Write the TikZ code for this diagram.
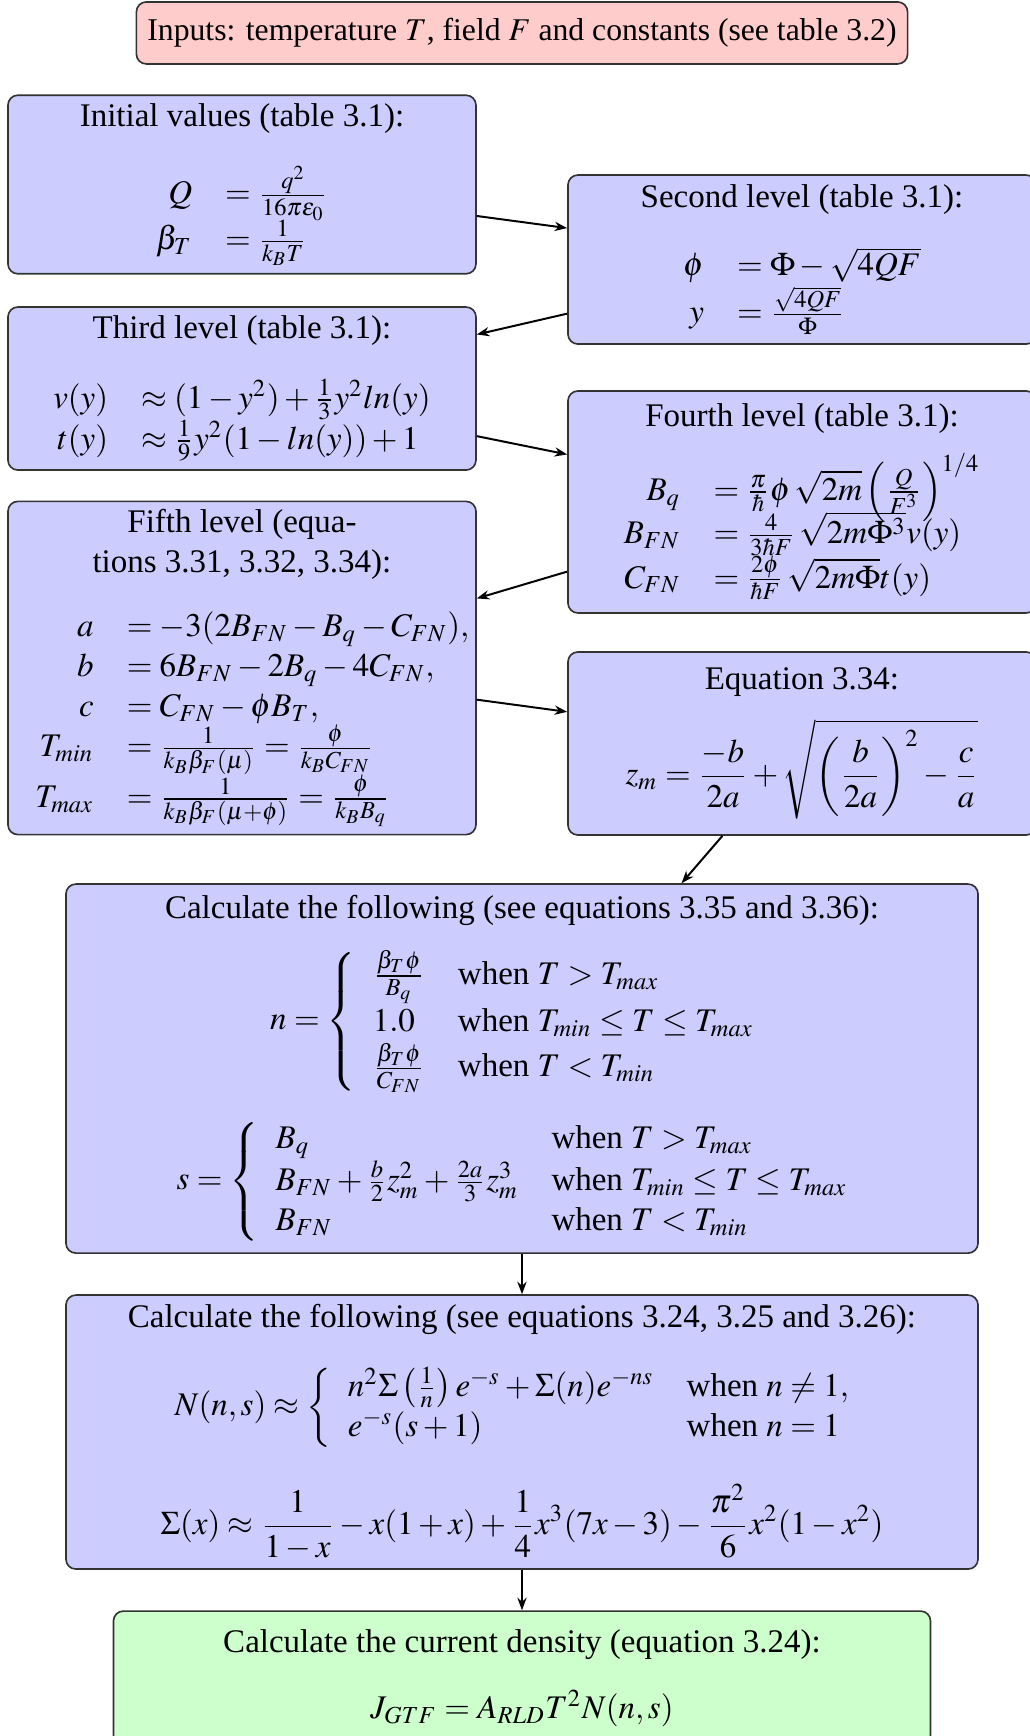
\documentclass[tikz,border=0pt]{standalone}
\usepackage{amsmath}
\usepackage{mathptmx}
\usepackage{fontspec}
\setmainfont{Liberation Serif}
\usetikzlibrary{arrows.meta,positioning}
\definecolor{LevelBlue}{HTML}{CCCCFF}
\definecolor{InputRed}{HTML}{FFCCCC}
\definecolor{ResultGreen}{HTML}{CCFFCC}

\begin{document}
\begin{tikzpicture}[
  x=1cm,y=1cm,
  flow/.style={
    -{Stealth[length=3.8pt,width=2.8pt]},
    line width=0.6pt,
    draw=black
  },
  levelbox/.style={
    rounded corners=3pt,
    line width=0.5pt,
    draw=black!80,
    fill=LevelBlue,
    align=flush center,
    text width=4.75cm,
    inner xsep=0.117cm,
    inner ysep=2.5pt,
    font=\fontsize{10}{12}\selectfont
  },
  calcbox/.style={
    levelbox,
    text width=9.479cm
  },
  inputbox/.style={
    rounded corners=3pt,
    line width=0.5pt,
    draw=black!80,
    fill=InputRed,
    align=center,
    minimum width=8.211cm,
    minimum height=0.660cm,
    font=\fontsize{9.6}{11.5}\selectfont
  },
  resultbox/.style={
    levelbox,
    fill=ResultGreen,
    text width=8.467cm
  }
]
\useasboundingbox (0,0) rectangle (10.959,-18.488);

% -------------------------------------------------
% Inputs
% -------------------------------------------------
\node[inputbox] (inputs) at (5.559,-0.351)
{Inputs: temperature $T$, field $F$ and constants (see table 3.2)};

% -------------------------------------------------
% Levels (zig-zag)
% -------------------------------------------------
\node[levelbox, minimum height=1.885cm] (init) at (2.577,-1.965)
{Initial values (table 3.1):\\[9pt]
$\begin{array}{rl}
Q & = \frac{q^2}{16\pi\epsilon_0}\\
\beta_T & = \frac{1}{k_BT}
\end{array}$};

\node[levelbox, minimum height=1.800cm] (second) at (8.541,-2.764)
{Second level (table 3.1):\\[9pt]
$\begin{array}{rl}
\phi & = \Phi - \sqrt{4QF}\\
y & = \frac{\sqrt{4QF}}{\Phi}
\end{array}$};

\node[levelbox, minimum height=1.736cm] (third) at (2.577,-4.138)
{Third level (table 3.1):\\[9pt]
$\begin{array}{rl}
v(y) & \approx (1-y^2)+\frac{1}{3}y^2ln(y)\\
t(y) & \approx \frac{1}{9}y^2(1-ln(y))+1
\end{array}$};

\node[levelbox, minimum height=2.364cm] (fourth) at (8.541,-5.346)
{Fourth level (table 3.1):\\[5pt]
$\begin{array}{rl}
B_q & = \frac{\pi}{\hbar}\phi\,\sqrt{2m}\left(\frac{Q}{F^3}\right)^{1/4}\\[-3pt]
B_{FN} & = \frac{4}{3\hbar F}\,\sqrt{2m\Phi^3}v(y)\\
C_{FN} & = \frac{2\phi}{\hbar F}\,\sqrt{2m\Phi}t(y)
\end{array}$};

\node[levelbox, minimum height=3.536cm] (fifth) at (2.577,-7.114)
{Fifth level (equa-\\tions 3.31, 3.32, 3.34):\\[8pt]
$\begin{array}{rl}
a & = -3(2B_{FN}-B_q-C_{FN}),\\
b & = 6B_{FN}-2B_q-4C_{FN},\\
c & = C_{FN}-\phi B_T,\\[-1pt]
T_{min} & = \frac{1}{k_B\beta_F(\mu)} = \frac{\phi}{k_BC_{FN}}\\
T_{max} & = \frac{1}{k_B\beta_F(\mu+\phi)} = \frac{\phi}{k_BB_q}
\end{array}$};

\node[levelbox, minimum height=1.949cm] (zm) at (8.541,-7.918)
{Equation 3.34:\\[6pt]
$\displaystyle z_m = \frac{-b}{2a}+\sqrt{\left(\frac{b}{2a}\right)^2-\frac{c}{a}}$};

% -------------------------------------------------
% Calculation steps
% -------------------------------------------------
\node[calcbox, minimum height=3.930cm] (calcns) at (5.559,-11.380)
{Calculate the following (see equations 3.35 and 3.36):\\[6.5pt]
$n = \left\{\begin{array}{ll}
\frac{\beta_T\phi}{B_q} & \text{when } T > T_{max}\\
1.0 & \text{when } T_{min}\le T\le T_{max}\\
\frac{\beta_T\phi}{C_{FN}} & \text{when } T < T_{min}
\end{array}\right.$\\[7.5pt]
$s = \left\{\begin{array}{ll}
B_q & \text{when } T > T_{max}\\
B_{FN}+\frac{b}{2}z_m^2+\frac{2a}{3}z_m^3 & \text{when } T_{min}\le T\le T_{max}\\
B_{FN} & \text{when } T < T_{min}
\end{array}\right.$};

\node[calcbox, minimum height=2.918cm] (calcn) at (5.559,-15.251)
{Calculate the following (see equations 3.24, 3.25 and 3.26):\\[9pt]
$N(n,s)\approx\left\{\begin{array}{ll}
n^2\Sigma\left(\frac{1}{n}\right)e^{-s}+\Sigma(n)e^{-ns} & \text{when } n\neq 1,\\
e^{-s}(s+1) & \text{when } n = 1
\end{array}\right.$\\[10pt]
$\displaystyle \Sigma(x)\approx\frac{1}{1-x}-x(1+x)+\frac{1}{4}x^3(7x-3)-\frac{\pi^2}{6}x^2(1-x^2)$};

\node[resultbox, minimum height=1.427cm] (current) at (5.559,-17.871)
{Calculate the current density (equation 3.24):\\[8pt]
$J_{GTF} = A_{RLD}T^2N(n,s)$};

% -------------------------------------------------
% Connectors
% -------------------------------------------------
\draw[flow] (init) -- (second);
\draw[flow] (second) -- (third);
\draw[flow] (third) -- (fourth);
\draw[flow] (fourth) -- (fifth);
\draw[flow] (fifth) -- (zm);
\draw[flow] (zm) -- (calcns);
\draw[flow] (calcns) -- (calcn);
\draw[flow] (calcn) -- (current);

\end{tikzpicture}
\end{document}
